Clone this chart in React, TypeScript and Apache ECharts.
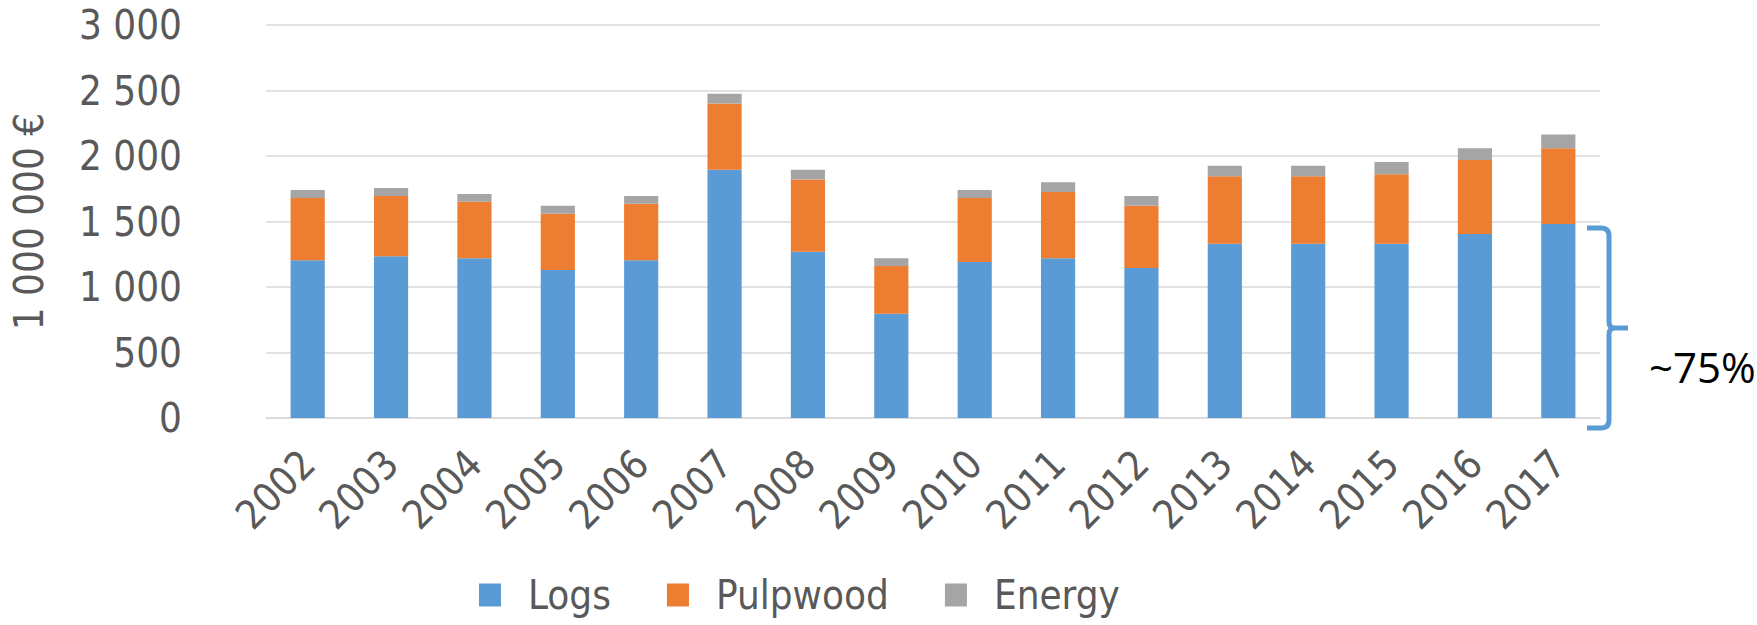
import React, { useEffect, useRef } from "react";
import * as echarts from "echarts";

const years = ["2002", "2003", "2004", "2005", "2006", "2007", "2008", "2009", "2010", "2011", "2012", "2013", "2014", "2015", "2016", "2017"];
const logs = [1205, 1235, 1220, 1130, 1205, 1895, 1270, 795, 1190, 1220, 1145, 1330, 1330, 1330, 1405, 1480];
const pulpwood = [475, 460, 430, 430, 430, 505, 550, 365, 490, 505, 475, 515, 515, 530, 565, 580];
const energy = [60, 60, 60, 60, 60, 75, 75, 60, 60, 75, 75, 80, 80, 95, 90, 105];
const seriesNames = ["Logs", "Pulpwood", "Energy"];
const colors = ["#5b9bd5", "#ed7d31", "#a5a5a5"];
const yTicks = [0, 500, 1000, 1500, 2000, 2500, 3000];
const braceTopValue = 1450;
const braceLabel = "~75%";
const yTitle = "1 000 000 €";

const FONT = "'DejaVu Sans Condensed', 'DejaVu Sans', sans-serif";
const TXT = "#595959";

const fmt = (v: number) => String(v).replace(/\B(?=(\d{3})+(?!\d))/g, " ");

export default function App() {
  const ref = useRef<HTMLDivElement>(null);
  useEffect(() => {
    document.body.style.margin = "0";
    const chart = echarts.init(ref.current!, null, { renderer: "svg" });
    const gridRight = 157;
    chart.setOption({
      animation: false,
      grid: { left: 266, right: gridRight, top: 25, bottom: 207, containLabel: false },
      legend: {
        data: seriesNames,
        left: 474,
        top: 570,
        itemWidth: 22,
        itemHeight: 23,
        itemGap: 56,
        icon: "rect",
        textStyle: { fontFamily: FONT, fontSize: 40, color: TXT, padding: [0, 0, 0, 22] },
      },
      xAxis: {
        type: "category",
        data: years,
        axisLine: { show: true, lineStyle: { color: "#d9d9d9", width: 1.5 } },
        axisTick: { show: false },
        axisLabel: { rotate: 45, margin: 39, fontFamily: FONT, fontSize: 40, color: TXT, interval: 0 },
      },
      yAxis: {
        type: "value",
        min: yTicks[0],
        max: yTicks[yTicks.length - 1],
        interval: 500,
        name: yTitle,
        nameLocation: "middle",
        nameGap: 217,
        nameTextStyle: { fontFamily: FONT, fontSize: 40, color: TXT },
        axisLine: { show: false },
        axisTick: { show: false },
        splitLine: { lineStyle: { color: "#d9d9d9", width: 1.5 } },
        axisLabel: { margin: 84, fontFamily: FONT, fontSize: 40, color: TXT, formatter: (v: number) => fmt(v) },
      },
      series: [logs, pulpwood, energy].map((d, i) => ({
        name: seriesNames[i],
        type: "bar",
        stack: "total",
        data: d,
        barWidth: "41%",
        itemStyle: { color: colors[i] },
      })),
    });

    const yT = chart.convertToPixel({ yAxisIndex: 0 }, braceTopValue) as number;
    const yB = (chart.convertToPixel({ yAxisIndex: 0 }, 0) as number) + 10;
    const yM = (yT + yB) / 2;
    const gx = chart.getWidth() - gridRight;
    const x0 = gx - 13;
    const x1 = gx + 9;
    const x2 = gx + 28;
    const r = 8;
    const d =
      `M ${x0} ${yT} L ${x1 - r} ${yT} Q ${x1} ${yT} ${x1} ${yT + r} ` +
      `L ${x1} ${yM - 6} Q ${x1} ${yM} ${x1 + 6} ${yM} L ${x2} ${yM} ` +
      `M ${x1 + 6} ${yM} Q ${x1} ${yM} ${x1} ${yM + 6} ` +
      `L ${x1} ${yB - r} Q ${x1} ${yB} ${x1 - r} ${yB} L ${x0} ${yB}`;
    echarts.graphic.registerShape("brace", echarts.graphic.extendPath(d, {}));
    chart.setOption({
      graphic: [
        { type: "brace", style: { stroke: colors[0], lineWidth: 5, fill: "none" } },
        {
          type: "text",
          x: gx + 49,
          y: yM + 38,
          style: { text: braceLabel, fontFamily: "'Open Sans', 'Noto Sans', sans-serif", fontSize: 42, fill: "#000", verticalAlign: "middle", align: "left" },
        },
      ],
    });
    return () => chart.dispose();
  }, []);
  return <div ref={ref} style={{ width: 1757, height: 625 }} />;
}
